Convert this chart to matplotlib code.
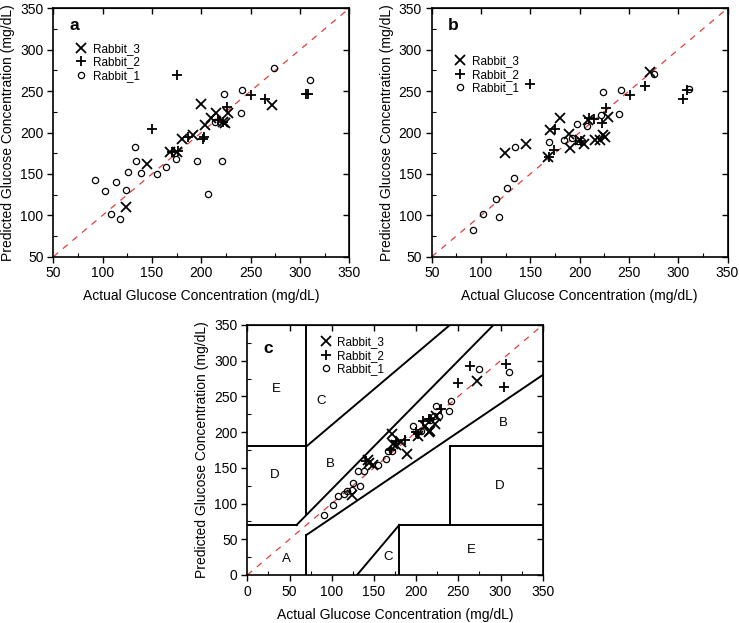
import matplotlib
matplotlib.use("Agg")
import matplotlib.pyplot as plt
from matplotlib.ticker import MultipleLocator

plt.rcParams['font.family'] = ['Liberation Sans', 'DejaVu Sans']

# ---------------- data ----------------
# Panel a
a_r3_x = [200, 272, 145, 124, 180, 192, 204, 215, 210, 227, 222, 224, 168, 175]
a_r3_y = [235, 233, 162, 110, 192, 197, 209, 223, 217, 224, 213, 212, 177, 177]
a_r2_x = [175, 150, 250, 265, 306, 308, 226, 203, 202, 187, 217, 170, 176, 222]
a_r2_y = [270, 204, 245, 240, 247, 246, 231, 195, 192, 195, 215, 176, 178, 213]
a_r1_x = [274, 310, 223, 241, 240, 133, 134, 92, 114, 126, 139, 155, 164, 174,
          196, 221, 207, 102, 124, 108, 118, 214]
a_r1_y = [278, 263, 247, 251, 224, 183, 165, 143, 140, 152, 151, 150, 158, 168,
          165, 165, 126, 129, 130, 102, 96, 213]

# Panel b
b_r3_x = [271, 124, 146, 170, 180, 189, 190, 200, 204, 209, 216, 221, 224, 226, 229, 168]
b_r3_y = [273, 175, 186, 203, 217, 198, 181, 191, 186, 215, 191, 191, 197, 194, 219, 171]
b_r2_x = [150, 169, 174, 175, 210, 215, 223, 227, 251, 266, 305, 309, 201]
b_r2_y = [258, 171, 179, 204, 217, 216, 211, 229, 245, 256, 241, 251, 190]
b_r1_x = [275, 311, 224, 242, 240, 222, 197, 208, 169, 184, 192, 198, 202, 134,
          133, 126, 115, 102, 118, 92]
b_r1_y = [271, 253, 249, 251, 222, 221, 210, 208, 188, 191, 193, 190, 190, 183,
          145, 133, 120, 102, 98, 82]

# Panel c
c_r3_x = [272, 171, 189, 216, 173, 182, 222, 223, 143, 144, 149, 124, 202, 215, 176, 210]
c_r3_y = [272, 197, 170, 201, 184, 186, 212, 222, 161, 157, 154, 112, 194, 200, 182, 208]
c_r2_x = [264, 306, 304, 250, 170, 187, 215, 200, 229, 208, 202, 216, 141, 176]
c_r2_y = [292, 296, 263, 269, 175, 189, 218, 200, 233, 215, 197, 219, 159, 188]
c_r1_x = [274, 310, 241, 239, 223, 196, 131, 138, 155, 164, 172, 125, 124, 133,
          118, 114, 108, 101, 91, 206, 216, 221, 227, 167]
c_r1_y = [288, 284, 244, 229, 236, 208, 145, 145, 154, 162, 173, 129, 119, 124,
          117, 114, 110, 98, 84, 202, 217, 222, 222, 173]

series_labels = ["Rabbit_3", "Rabbit_2", "Rabbit_1"]
xlabel = "Actual Glucose Concentration (mg/dL)"
ylabel = "Predicted Glucose Concentration (mg/dL)"

# Clarke error grid zone labels
zone_text = ["E", "C", "B", "D", "B", "D", "E", "C", "A"]
zone_x = [34, 88, 98, 32, 303, 299, 266, 167, 46]
zone_y = [261, 244, 156, 140, 213, 125, 35, 25, 23]

# ---------------- figure ----------------
W, H = 740, 623
fig = plt.figure(figsize=(W / 100, H / 100), dpi=100)

def rect(l, t, r, b):
    return [l / W, 1 - b / H, (r - l) / W, (b - t) / H]

ax_a = fig.add_axes(rect(53.3, 8.3, 349.3, 256.7))
ax_b = fig.add_axes(rect(431.7, 8.3, 727.5, 256.7))
ax_c = fig.add_axes(rect(247.3, 325, 542.7, 575))

red = '#e0403a'

def style(ax, lo, hi):
    ax.set_xlim(lo, hi)
    ax.set_ylim(lo, hi)
    ax.xaxis.set_major_locator(MultipleLocator(50))
    ax.yaxis.set_major_locator(MultipleLocator(50))
    ax.xaxis.set_minor_locator(MultipleLocator(25))
    ax.yaxis.set_minor_locator(MultipleLocator(25))
    ax.tick_params(which='major', direction='out', length=4, width=1,
                   labelsize=10, pad=3)
    ax.tick_params(which='minor', direction='in', length=3, width=0.8)
    for s in ax.spines.values():
        s.set_linewidth(1.2)
    ax.set_xlabel(xlabel, fontsize=10, labelpad=6.5)
    ax.set_ylabel(ylabel, fontsize=10, labelpad=3.5)
    # inward major ticks on top/right
    tx = ax.secondary_xaxis('top')
    tx.xaxis.set_major_locator(MultipleLocator(50))
    tx.tick_params(direction='in', length=4, width=1, labeltop=False)
    tx.set_xticklabels([])
    ty = ax.secondary_yaxis('right')
    ty.yaxis.set_major_locator(MultipleLocator(50))
    ty.tick_params(direction='in', length=4, width=1)
    ty.set_yticklabels([])
    ax.plot([lo, hi], [lo, hi], ls=(0, (5, 5)), color=red, lw=0.9, zorder=1)

def scatter(ax, xs3, ys3, xs2, ys2, xs1, ys1, leg_xy):
    ax.plot(xs3, ys3, ls='none', marker='x', ms=6.5, mew=1.3, color='black',
            label=series_labels[0], zorder=3)
    ax.plot(xs2, ys2, ls='none', marker='+', ms=7, mew=1.3, color='black',
            label=series_labels[1], zorder=3)
    ax.plot(xs1, ys1, ls='none', marker='o', ms=4.5, mew=0.9, mfc='none',
            color='black', label=series_labels[2], zorder=3)
    ax.legend(loc='upper left', bbox_to_anchor=leg_xy, frameon=False,
              fontsize=8.5, handlelength=1.0, handletextpad=0.5,
              labelspacing=0.12, borderpad=0, borderaxespad=0)

style(ax_a, 50, 350)
scatter(ax_a, a_r3_x, a_r3_y, a_r2_x, a_r2_y, a_r1_x, a_r1_y, (0.075, 0.86))
ax_a.text(0.07, 0.93, 'a', transform=ax_a.transAxes, fontsize=12.5,
          fontweight='bold', ha='center', va='center')

style(ax_b, 50, 350)
scatter(ax_b, b_r3_x, b_r3_y, b_r2_x, b_r2_y, b_r1_x, b_r1_y, (0.075, 0.81))
ax_b.text(0.073, 0.93, 'b', transform=ax_b.transAxes, fontsize=12.5,
          fontweight='bold', ha='center', va='center')

style(ax_c, 0, 350)
# Clarke error grid boundaries
kw = dict(color='black', lw=1.4, zorder=2)
ax_c.plot([0, 175 / 3], [70, 70], **kw)
ax_c.plot([175 / 3, 350 / 1.2], [70, 350], **kw)
ax_c.plot([70, 70], [84, 350], **kw)
ax_c.plot([0, 70], [180, 180], **kw)
ax_c.plot([70, 240], [180, 350], **kw)
ax_c.plot([70, 70], [0, 56], **kw)
ax_c.plot([70, 350], [56, 280], **kw)
ax_c.plot([180, 180], [0, 70], **kw)
ax_c.plot([180, 350], [70, 70], **kw)
ax_c.plot([240, 240], [70, 180], **kw)
ax_c.plot([240, 350], [180, 180], **kw)
ax_c.plot([130, 180], [0, 70], **kw)
for t, x, y in zip(zone_text, zone_x, zone_y):
    ax_c.text(x, y, t, fontsize=9.5, ha='center', va='center')
scatter(ax_c, c_r3_x, c_r3_y, c_r2_x, c_r2_y, c_r1_x, c_r1_y, (0.245, 0.955))
ax_c.text(0.071, 0.907, 'c', transform=ax_c.transAxes, fontsize=12.5,
          fontweight='bold', ha='center', va='center')

fig.savefig('out.png', dpi=100)
